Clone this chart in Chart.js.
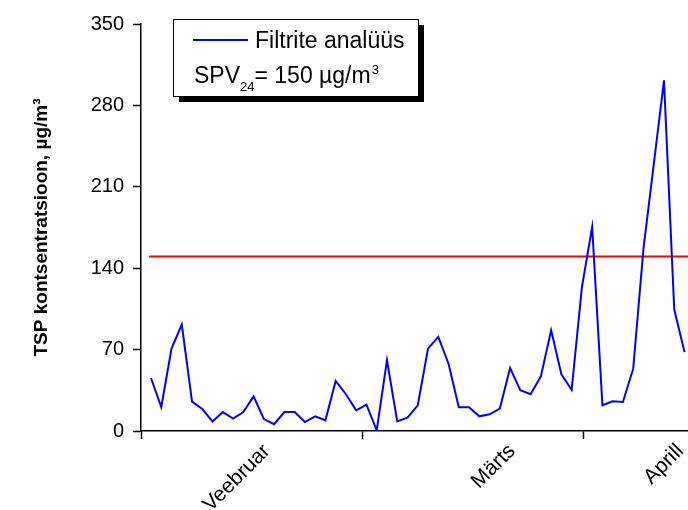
<!DOCTYPE html>
<html>
<head>
<meta charset="utf-8">
<script src="https://cdn.jsdelivr.net/npm/chart.js@4"></script>
<style>
  html, body { margin: 0; padding: 0; background: #fff; overflow: hidden; }
  #wrap { width: 688px; height: 510px; }
</style>
</head>
<body>
<div id="wrap"><canvas id="tsp"></canvas></div>
<script>
// TSP mõõtmised (proovi järjekorranumber -> µg/m3)
const tspValues = [
  45.6, 20.6, 70.9, 91.5, 25.3, 18.9, 8.1, 16.3, 10.6, 16.3,
  29.8, 10.3, 5.8, 16.3, 16.3, 7.7, 12.6, 9.2, 43, 31.6,
  17.8, 22.7, 0.6, 60.8, 8.3, 11.5, 22.1, 70.8, 80.9, 57.9,
  20.4, 20.4, 12.6, 14.4, 19.3, 54.2, 35, 31.6, 47, 86.6,
  48.8, 35.3, 123.8, 175.4, 22.1, 25.5, 24.9, 53.6, 156.8, 229,
  301.5, 104.4, 68
];

// piirväärtus SPV24
const limitValue = 150;

// kuu piirid ja kuude nimed x-teljel
const monthStarts = [-0.975, 20.6, 42.2];
const monthNames = ['Veebruar', 'Märts', 'Aprill'];
const monthLabelPos = [11.3, 35.2, 51.6];

const yTicks = [0, 70, 140, 210, 280, 350];

const xMin = -0.975;
const xMax = 52.34;

Chart.defaults.font.family = '"Liberation Sans", Arial, sans-serif';
Chart.defaults.color = '#000';

const tspPoints = tspValues.map((v, i) => ({ x: i, y: v }));
const limitPoints = [{ x: -0.2, y: limitValue }, { x: xMax + 1, y: limitValue }];

// legendi kast varjuga
const legendBox = {
  id: 'legendBox',
  afterDraw(chart) {
    const c = chart.ctx;
    const x = 173, y = 19, w = 245, h = 77;
    const big = '23px "Liberation Sans", Arial, sans-serif';
    const small = '13px "Liberation Sans", Arial, sans-serif';
    c.save();
    c.fillStyle = '#000';
    c.fillRect(x + 6, y + 6, w, h);
    c.fillStyle = '#fff';
    c.fillRect(x, y, w, h);
    c.strokeStyle = '#000';
    c.lineWidth = 1;
    c.strokeRect(x + 0.5, y + 0.5, w, h);

    c.strokeStyle = '#0000ff';
    c.lineWidth = 2;
    c.beginPath();
    c.moveTo(193, 40);
    c.lineTo(248, 40);
    c.stroke();

    c.fillStyle = '#000';
    c.textBaseline = 'alphabetic';
    c.font = big;
    c.fillText('Filtrite analüüs', 255, 48);

    let tx = 194;
    const by = 83;
    c.fillText('SPV', tx, by);
    tx += c.measureText('SPV').width;
    c.font = small;
    c.fillText('24', tx, by + 8);
    tx += c.measureText('24').width;
    c.font = big;
    c.fillText('= 150 \u00b5g/m', tx, by);
    tx += c.measureText('= 150 \u00b5g/m').width + 1;
    c.font = small;
    c.fillText('3', tx, by - 9);
    c.restore();
  }
};

new Chart(document.getElementById('tsp'), {
  type: 'line',
  data: {
    datasets: [
      {
        label: 'Filtrite analüüs',
        data: tspPoints,
        borderColor: '#0000ff',
        borderWidth: 2,
        pointRadius: 0,
        tension: 0
      },
      {
        label: 'SPV24',
        data: limitPoints,
        borderColor: '#ff0000',
        borderWidth: 2,
        pointRadius: 0,
        tension: 0
      }
    ]
  },
  options: {
    responsive: true,
    maintainAspectRatio: false,
    animation: false,
    layout: { padding: { top: 24, left: 0, right: 0, bottom: 0 } },
    plugins: {
      legend: { display: false },
      tooltip: { enabled: false }
    },
    scales: {
      x: {
        type: 'linear',
        min: xMin,
        max: xMax,
        afterBuildTicks: (scale) => {
          const vals = monthStarts.concat(monthLabelPos).sort((a, b) => a - b);
          scale.ticks = vals.map(v => ({ value: v }));
        },
        afterFit: (scale) => {
          scale.height = 79;
          scale.paddingLeft = 0;
          scale.paddingRight = 0;
        },
        ticks: {
          autoSkip: false,
          minRotation: 45,
          maxRotation: 45,
          padding: 0,
          font: { size: 21 },
          callback: (value) => {
            const k = monthLabelPos.indexOf(value);
            return k >= 0 ? monthNames[k] : '';
          }
        },
        grid: {
          drawOnChartArea: false,
          tickLength: 8,
          tickWidth: 1.5,
          tickColor: (ctx) => (ctx.tick && monthStarts.includes(ctx.tick.value)) ? '#000' : 'rgba(0,0,0,0)'
        },
        border: { color: '#000', width: 1.5 }
      },
      y: {
        min: 0,
        max: 350,
        afterBuildTicks: (scale) => {
          scale.ticks = yTicks.map(v => ({ value: v }));
        },
        afterFit: (scale) => {
          scale.width = 141;
          scale.paddingTop = 0;
          scale.paddingBottom = 0;
        },
        ticks: {
          padding: 9,
          font: { size: 20 }
        },
        grid: {
          drawOnChartArea: false,
          tickLength: 8,
          tickWidth: 1.5,
          tickColor: '#000'
        },
        border: { color: '#000', width: 1.5 },
        title: {
          display: true,
          text: 'TSP kontsentratsioon, \u00b5g/m\u00b3',
          font: { size: 19, weight: 'bold' },
          padding: { top: 30, bottom: 0 }
        }
      }
    }
  },
  plugins: [legendBox]
});
</script>
</body>
</html>
